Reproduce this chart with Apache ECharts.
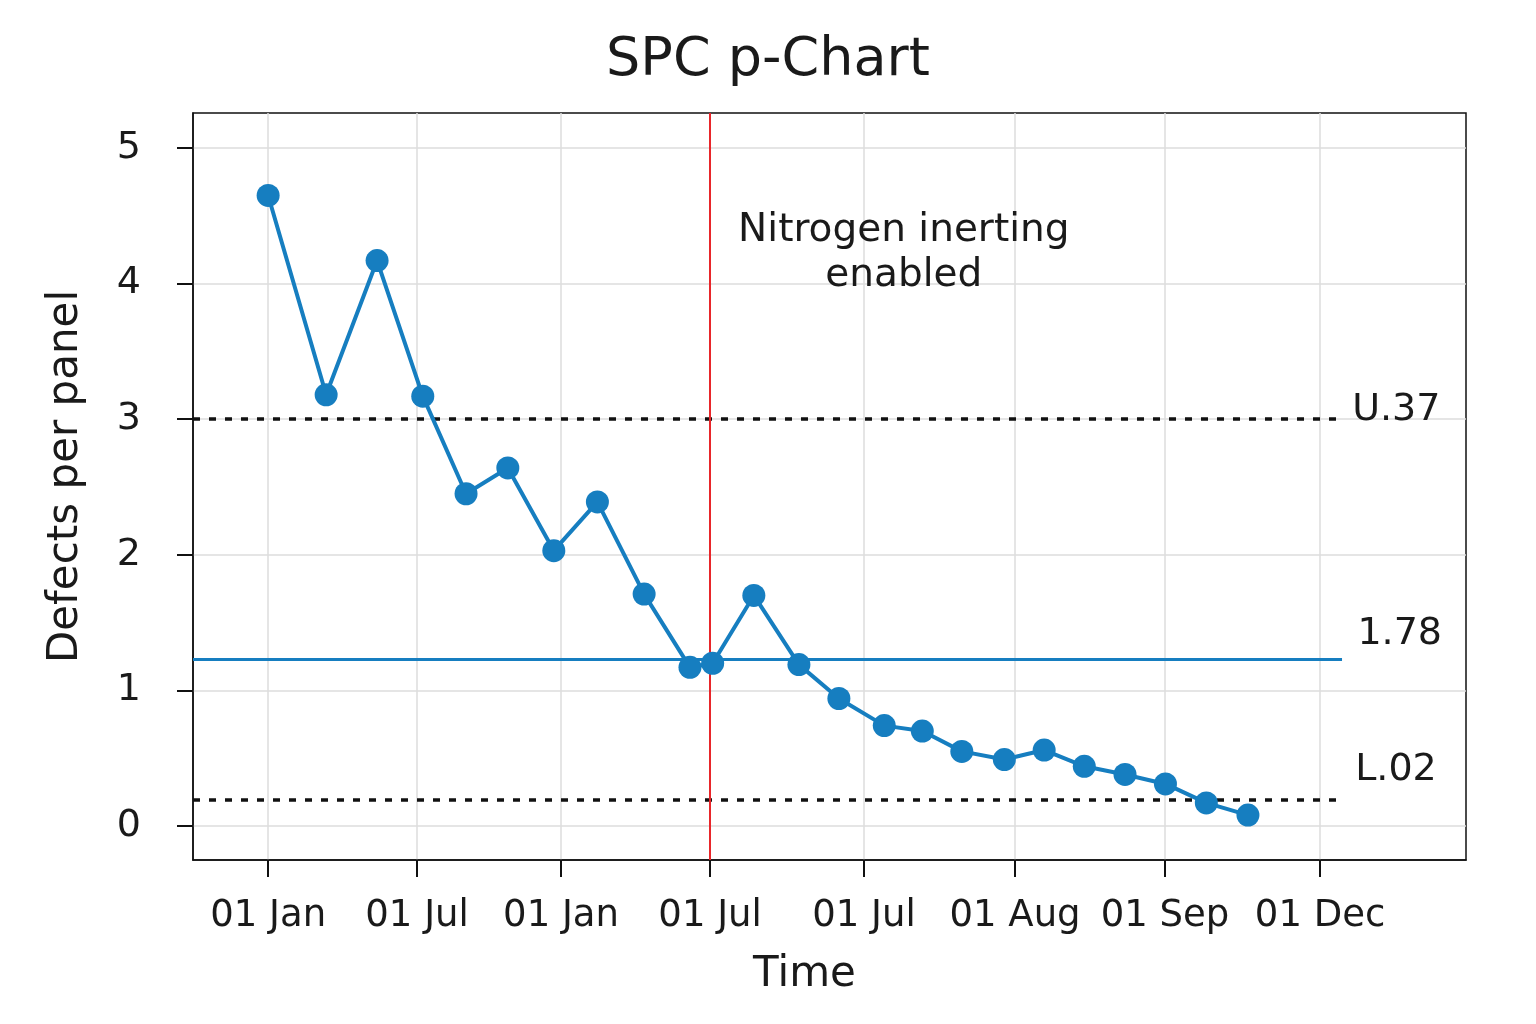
<!DOCTYPE html>
<html>
<head>
<meta charset="utf-8">
<script src="https://cdn.jsdelivr.net/npm/echarts@6/dist/echarts.min.js"></script>
<style>html,body{margin:0;padding:0;background:#fff;}#c{width:1536px;height:1024px;}</style>
</head>
<body>
<div id="c"></div>
<script>
// ---- data ----
const xTickValues = [0, 0.991, 1.949, 2.941, 3.965, 4.970, 5.968, 7.0];
const xTickLabels = ['01 Jan', '01 Jul', '01 Jan', '01 Jul', '01 Jul', '01 Aug', '01 Sep', '01 Dec'];
const yTickValues = [0, 1, 2, 3, 4, 5];
const sampleX = [0.00, 0.386, 0.725, 1.029, 1.317, 1.595, 1.901, 2.191, 2.502, 2.807, 2.958, 3.232,
                 3.532, 3.798, 4.100, 4.353, 4.616, 4.899, 5.164, 5.431, 5.702, 5.971, 6.243, 6.520];
const defects = [4.65, 3.18, 4.17, 3.17, 2.45, 2.64, 2.03, 2.39, 1.71, 1.17, 1.20, 1.70,
                 1.19, 0.94, 0.74, 0.70, 0.55, 0.49, 0.56, 0.44, 0.38, 0.31, 0.17, 0.08];
const centerLine = 1.23;
const upperLimit = 3.0;
const lowerLimit = 0.19;
const interventionX = 2.941;
const limitEndX = 7.146;
const limitLabels = ['U.37', '1.78', 'L.02'];
const annotationText = 'Nitrogen inerting\nenabled';

const FONT = 'DejaVu Sans';
const BLUE = '#167ec0';
const INK = '#1a1a1a';

const chart = echarts.init(document.getElementById('c'), null, {renderer: 'canvas'});
const points = sampleX.map((x, i) => [x, defects[i]]);

function lbl(text, extra) {
  return Object.assign({
    show: true, formatter: text, position: 'right', distance: 0, align: 'left', verticalAlign: 'middle',
    fontFamily: FONT, fontSize: 38, color: INK, opacity: 1
  }, extra || {});
}

const option = {
  animation: false,
  backgroundColor: '#fff',
  textStyle: {fontFamily: FONT, color: INK},
  title: {
    text: 'SPC p-Chart',
    left: 'center',
    top: 29,
    textStyle: {fontFamily: FONT, fontSize: 54, fontWeight: 'normal', color: INK}
  },
  grid: {
    left: 193, right: 70, top: 113, bottom: 164,
    show: true, borderColor: '#111', borderWidth: 1.5, backgroundColor: 'transparent'
  },
  xAxis: {
    type: 'value',
    min: -0.5, max: 7.971,
    name: 'Time',
    nameLocation: 'middle',
    nameGap: 94,
    nameTextStyle: {fontFamily: FONT, fontSize: 42, color: INK, padding: [0, 50, 0, 0]},
    axisLine: {show: true, onZero: false, lineStyle: {color: '#111', width: 1.5}},
    axisTick: {show: true, inside: false, length: 17, lineStyle: {color: '#111', width: 2}, customValues: xTickValues},
    axisLabel: {
      show: true, margin: 38, fontFamily: FONT, fontSize: 37, color: INK,
      customValues: xTickValues,
      formatter: function (v) {
        let best = 0, bd = 1e9;
        xTickValues.forEach((t, i) => { const d = Math.abs(t - v); if (d < bd) { bd = d; best = i; } });
        return xTickLabels[best];
      }
    },
    splitLine: {show: true, lineStyle: {color: '#dcdcdc', width: 1.5}}
  },
  yAxis: {
    type: 'value',
    min: -0.251, max: 5.258,
    name: 'Defects per panel',
    nameLocation: 'middle',
    nameGap: 106,
    nameTextStyle: {fontFamily: FONT, fontSize: 42, color: INK, padding: [0, 0, 0, 20]},
    axisLine: {show: true, onZero: false, lineStyle: {color: '#111', width: 1.5}},
    axisTick: {show: true, inside: false, length: 16, lineStyle: {color: '#111', width: 2}, customValues: yTickValues},
    axisLabel: {show: true, margin: 52, fontFamily: FONT, fontSize: 38, color: INK, customValues: yTickValues},
    splitLine: {show: true, lineStyle: {color: '#dcdcdc', width: 1.5}}
  },
  series: [
    {
      name: 'Defects per panel',
      type: 'line',
      data: points,
      z: 5,
      symbol: 'circle',
      symbolSize: 23,
      lineStyle: {color: BLUE, width: 4},
      itemStyle: {color: BLUE},
      markLine: {
        silent: true,
        symbol: 'none',
        label: {show: false},
        data: [
          [{coord: [-0.5, upperLimit], lineStyle: {color: '#111', width: 3.5, type: [7, 9]}}, {coord: [limitEndX, upperLimit]}],
          [{coord: [-0.5, lowerLimit], lineStyle: {color: '#111', width: 3.5, type: [7, 9]}}, {coord: [limitEndX, lowerLimit]}],
          [{coord: [-0.5, centerLine], lineStyle: {color: BLUE, width: 3, type: 'solid'}}, {coord: [limitEndX, centerLine]}],
          [{coord: [interventionX, -0.251], lineStyle: {color: '#e8262a', width: 2, type: 'solid'}}, {coord: [interventionX, 5.258]}]
        ]
      }
    },
    {
      name: 'labels',
      type: 'scatter',
      symbol: 'circle',
      symbolSize: 1,
      itemStyle: {color: 'rgba(0,0,0,0)', opacity: 1},
      silent: true,
      z: 6,
      emphasis: {disabled: true},
      data: [
        {value: [7.21, 3.07], label: lbl(limitLabels[0])},
        {value: [7.245, 1.416], label: lbl(limitLabels[1])},
        {value: [7.23, 0.41], label: lbl(limitLabels[2])},
        {value: [4.23, 4.225], label: lbl(annotationText, {position: 'inside', align: 'center', lineHeight: 45, fontSize: 39})}
      ]
    }
  ]
};
chart.setOption(option);
</script>
</body>
</html>
